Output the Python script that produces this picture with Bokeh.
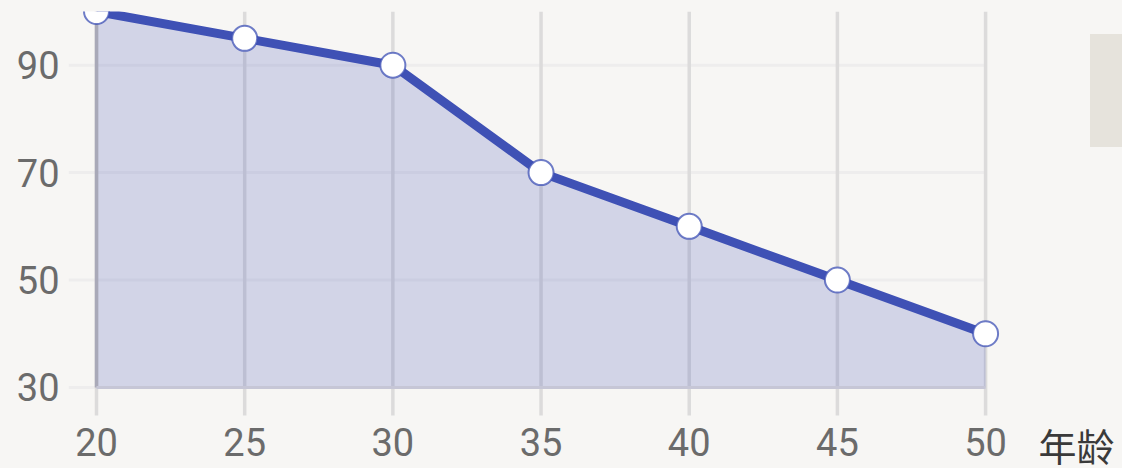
from bokeh.plotting import figure
from bokeh.models import Range1d, Label, Legend, LegendItem, FixedTicker
from bokeh.embed import file_html
from bokeh.resources import INLINE

# ---- data ----
ages = [20, 25, 30, 35, 40, 45, 50]
values = [100, 95, 90, 70, 60, 50, 40]
y_ticks = [30, 50, 70, 90]
x_label = "年龄"
series_name = " "
y_base = 30

INDIGO = "#3f51b5"
BG = "#f7f6f4"
LEGEND_BG = "#e6e3dc"

x_start, x_end = 19.055, 54.62
y_start, y_end = 14.91, 100.0
grid_bottom = 24.78     # where the vertical grid lines / x axis sit

p = figure(width=1122, height=468, output_backend="svg", toolbar_location=None,
           x_range=Range1d(x_start, x_end), y_range=Range1d(y_start, y_end),
           min_border_left=68, min_border_right=0, min_border_top=11,
           min_border_bottom=0,
           background_fill_color=BG, border_fill_color=BG)
p.outline_line_color = None

# axes
p.xaxis.ticker = FixedTicker(ticks=ages)
p.xaxis.fixed_location = grid_bottom
p.yaxis.ticker = FixedTicker(ticks=y_ticks)
p.axis.axis_line_color = None
p.axis.major_tick_line_color = None
p.axis.minor_tick_line_color = None
p.axis.major_tick_out = 0
p.axis.major_tick_in = 0
p.axis.major_label_text_font = "Roboto"
p.axis.major_label_text_font_size = "38px"
p.axis.major_label_text_color = "#6b6b6b"
p.xaxis.major_label_standoff = 13
p.yaxis.major_label_standoff = 9

# grids
p.xgrid.grid_line_color = None
p.ygrid.grid_line_color = None
p.segment(x0=[x_start] * len(y_ticks), y0=y_ticks,
          x1=[ages[-1]] * len(y_ticks), y1=y_ticks,
          line_color="#eeeded", line_width=3, level="underlay")
p.segment(x0=ages, y0=[grid_bottom] * len(ages),
          x1=ages, y1=[y_end] * len(ages),
          line_color="#dcdbdb", line_width=3.5, level="underlay")

# area
area = p.varea(x=ages, y1=[y_base] * len(ages), y2=values,
               fill_color=INDIGO, fill_alpha=0.2)

# axis-edge lines of the area
p.segment(x0=[ages[0]], y0=[y_base], x1=[ages[0]], y1=[values[0]],
          line_color="#a9a9b8", line_width=3.5)
p.segment(x0=[ages[0]], y0=[y_base], x1=[ages[-1]], y1=[y_base],
          line_color="#c6c6d6", line_width=3)

# line + markers
p.line(ages, values, line_color=INDIGO, line_width=9, line_join="round")
p.scatter(ages, values, size=25, fill_color="white", line_color=INDIGO,
          line_width=2, line_alpha=0.75)

# x axis name
p.add_layout(Label(x=ages[-1], y=grid_bottom, x_offset=53, y_offset=-29,
                   text=x_label, text_font="Noto Sans CJK SC",
                   text_font_size="38px", text_color="#3a3a3a",
                   text_baseline="middle", text_align="left"))

# legend box (mostly outside the visible area)
legend = Legend(items=[LegendItem(label=series_name, renderers=[area])],
                location=(1022, 321), padding=35, margin=0,
                glyph_height=41, glyph_width=20,
                background_fill_color=LEGEND_BG, background_fill_alpha=1,
                border_line_color=LEGEND_BG, border_line_width=1,
                label_text_font_size="12px")
p.add_layout(legend)

html = file_html(p, INLINE)
html = html.replace("<head>", "<head><style>html,body{background:#f7f6f4;overflow:hidden;}</style>", 1)
open("out.html", "w").write(html)
